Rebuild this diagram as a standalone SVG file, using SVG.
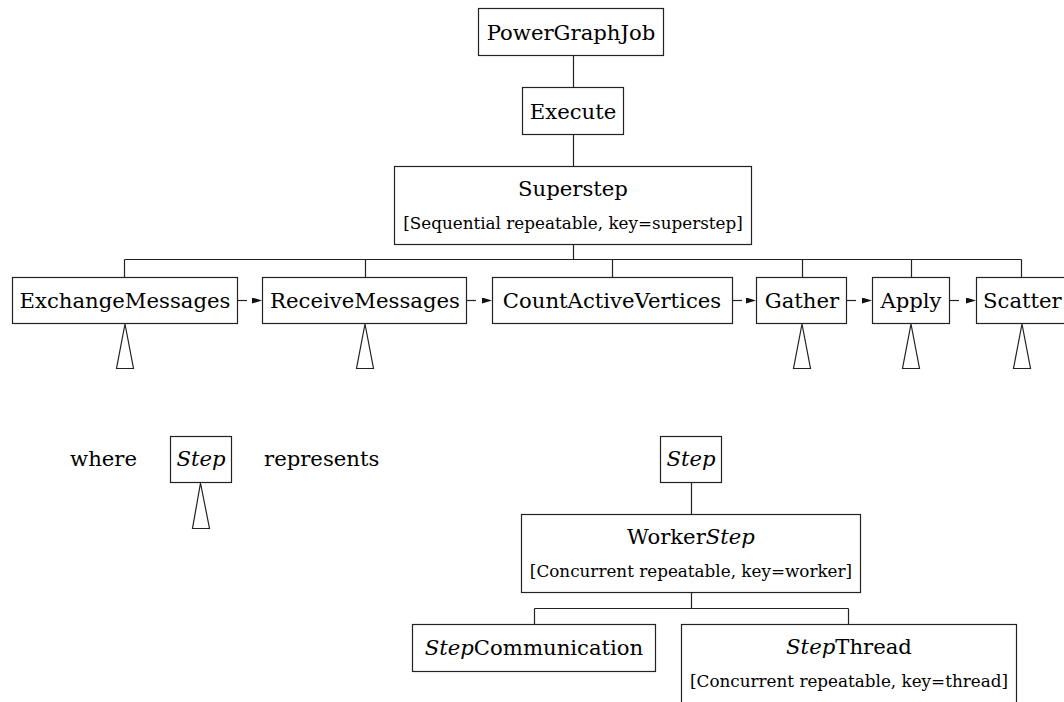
<svg xmlns="http://www.w3.org/2000/svg" width="1064" height="702" viewBox="0 0 1064 702">
  <style>
    .box { fill: #fff; stroke: #222; stroke-width: 1.2; }
    .ln { fill: none; stroke: #222; stroke-width: 1.2; }
    .seq { fill: none; stroke: #222; stroke-width: 1.2; stroke-dasharray: 9 100; marker-end: url(#head); }
    .tri { fill: #fff; stroke: #222; stroke-width: 1.2; }
    text { font-family: "DejaVu Serif", "Liberation Serif", serif; fill: #000; }
    .t { font-size: 21.2px; text-anchor: middle; }
    .l { font-size: 21.2px; }
    .s { font-size: 16.8px; text-anchor: middle; }
    .i { font-style: italic; }
  </style>
  <defs>
    <marker id="head" viewBox="0 0 10 6" refX="10" refY="3" markerWidth="10" markerHeight="6" markerUnits="userSpaceOnUse" orient="auto">
      <path d="M0,0 L10,3 L0,6 Z" fill="#111"/>
    </marker>
  </defs>

  <rect width="1064" height="702" fill="#fff"/>

  <!-- tree lines and sequence arrows -->
  <g id="connectors">
    <path class="ln" d="M573.5,56 V87 M573.5,135 V166 M573.5,245 V259.5 M124.5,259.5 H1021.5 M124.5,259.5 V277 M365.5,259.5 V277 M612.5,259.5 V277 M802.5,259.5 V277 M911.5,259.5 V277 M1021.5,259.5 V277"/>
    <line class="seq" x1="238" y1="300.5" x2="262" y2="300.5"/>
    <line class="seq" x1="467" y1="300.5" x2="492" y2="300.5"/>
    <line class="seq" x1="733" y1="300.5" x2="756" y2="300.5"/>
    <line class="seq" x1="847" y1="300.5" x2="872" y2="300.5"/>
    <line class="seq" x1="950" y1="300.5" x2="976" y2="300.5"/>
    <path class="ln" d="M691.5,483 V514 M691.5,593 V608.5 M534.5,608.5 H848.5 M534.5,608.5 V624 M848.5,608.5 V624"/>
  </g>

  <!-- expansion marks under steps -->
  <g id="expansion-marks">
    <polygon class="tri" points="125,324 116.5,368.5 133.5,368.5"/>
    <polygon class="tri" points="365,324 356.5,368.5 373.5,368.5"/>
    <polygon class="tri" points="802,324 793.5,368.5 810.5,368.5"/>
    <polygon class="tri" points="911,324 902.5,368.5 919.5,368.5"/>
    <polygon class="tri" points="1022,324 1013.5,368.5 1030.5,368.5"/>
    <polygon class="tri" points="200.5,483 192.5,528.5 209.5,528.5"/>
  </g>

  <g id="power-graph-job">
    <rect class="box" x="478.5" y="8.5" width="185" height="47"/>
    <text class="t" x="571" y="39.5">PowerGraphJob</text>
  </g>
  <g id="execute">
    <rect class="box" x="522.5" y="87.5" width="101" height="47"/>
    <text class="t" x="573" y="118.5">Execute</text>
  </g>
  <g id="superstep">
    <rect class="box" x="394.5" y="166.5" width="357" height="78"/>
    <text class="t" x="573" y="196">Superstep</text>
    <text class="s" x="573" y="229">[Sequential repeatable, key=superstep]</text>
  </g>
  <g id="exchange-messages">
    <rect class="box" x="12.5" y="277.5" width="225" height="46"/>
    <text class="t" x="125" y="308">ExchangeMessages</text>
  </g>
  <g id="receive-messages">
    <rect class="box" x="262.5" y="277.5" width="204" height="46"/>
    <text class="t" x="365" y="308">ReceiveMessages</text>
  </g>
  <g id="count-active-vertices">
    <rect class="box" x="492.5" y="277.5" width="240" height="46"/>
    <text class="t" x="612" y="308">CountActiveVertices</text>
  </g>
  <g id="gather">
    <rect class="box" x="756.5" y="277.5" width="90" height="46"/>
    <text class="t" x="802" y="308">Gather</text>
  </g>
  <g id="apply">
    <rect class="box" x="872.5" y="277.5" width="77" height="46"/>
    <text class="t" x="911" y="308">Apply</text>
  </g>
  <g id="scatter">
    <rect class="box" x="976.5" y="277.5" width="100" height="46"/>
    <text class="l" x="983" y="308">Scatter</text>
  </g>

  <g id="legend">
    <text class="l" x="70" y="466">where</text>
    <rect class="box" x="170.5" y="436.5" width="61" height="46"/>
    <text class="t i" x="201" y="466">Step</text>
    <text class="l" x="264" y="466">represents</text>
  </g>

  <g id="step">
    <rect class="box" x="660.5" y="436.5" width="61" height="46"/>
    <text class="t i" x="691" y="466">Step</text>
  </g>
  <g id="worker-step">
    <rect class="box" x="521.5" y="514.5" width="339" height="78"/>
    <text class="t" x="691" y="544">Worker<tspan class="i">Step</tspan></text>
    <text class="s" x="691" y="577">[Concurrent repeatable, key=worker]</text>
  </g>
  <g id="step-communication">
    <rect class="box" x="412.5" y="624.5" width="243" height="47"/>
    <text class="t" x="534" y="655"><tspan class="i">Step</tspan>Communication</text>
  </g>
  <g id="step-thread">
    <rect class="box" x="681.5" y="624.5" width="335" height="90"/>
    <text class="t" x="849" y="654"><tspan class="i">Step</tspan>Thread</text>
    <text class="s" x="849" y="687">[Concurrent repeatable, key=thread]</text>
  </g>
</svg>
